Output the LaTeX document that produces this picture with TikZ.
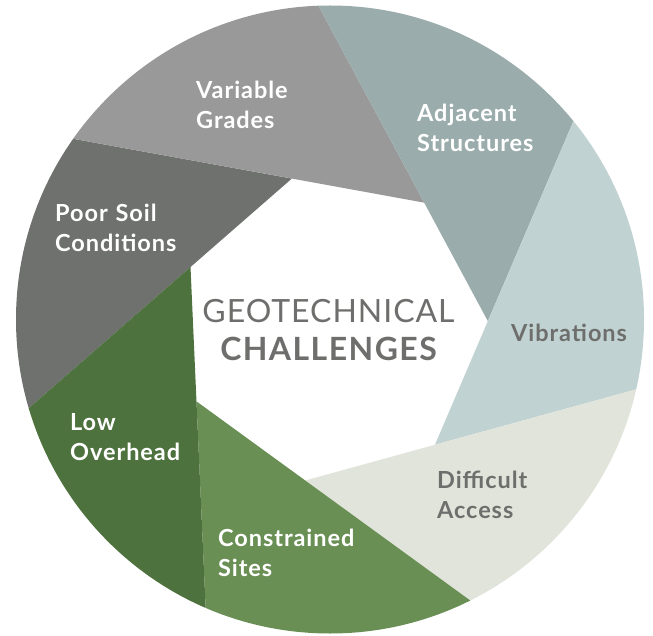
\documentclass[tikz,border=0pt]{standalone}
\usepackage{fontspec}
\setmainfont{Lato}
\usetikzlibrary{calc}
\definecolor{cPoor}{HTML}{6F716E}
\definecolor{cVar}{HTML}{999999}
\definecolor{cAdj}{HTML}{9AACAB}
\definecolor{cVib}{HTML}{C1D2D2}
\definecolor{cDiff}{HTML}{E1E4DA}
\definecolor{cCons}{HTML}{6A8F55}
\definecolor{cLow}{HTML}{4E723D}
\definecolor{txtgray}{HTML}{6E6F6D}
\tikzset{
  lbl/.style={font=\bfseries\fontsize{23.5}{30}\selectfont\addfontfeature{LetterSpace=4}, text=white, anchor=base west,
    inner sep=0pt, text width=170pt, align=left},
  lbldark/.style={lbl, text=txtgray}
}
\begin{document}
\begin{tikzpicture}[x=1pt,y=-1pt]
\fill[white] (0,0) rectangle (653,636);
\useasboundingbox (0,0) rectangle (653,636);
% heptagon vertices (clockwise on screen)
\foreach \k in {1,...,7}{
  \pgfmathsetmacro{\ang}{105.4-51.428571*(\k-1)}
  \coordinate (V\k) at ({333+155*cos(\ang)},{328-155*sin(\ang)});
}
\coordinate (C) at (330,319.5);
\begin{scope}
\clip (C) circle[radius=314pt];
\fill[cPoor] (V1) -- ($(V1)!6!(V7)$) -- ($(V2)!6!(V1)$) -- cycle;
\fill[cVar]  (V2) -- ($(V2)!6!(V1)$) -- ($(V3)!6!(V2)$) -- cycle;
\fill[cAdj]  (V3) -- ($(V3)!6!(V2)$) -- ($(V4)!6!(V3)$) -- cycle;
\fill[cVib]  (V4) -- ($(V4)!6!(V3)$) -- ($(V5)!6!(V4)$) -- cycle;
\fill[cDiff] (V5) -- ($(V5)!6!(V4)$) -- ($(V6)!6!(V5)$) -- cycle;
\fill[cCons] (V6) -- ($(V6)!6!(V5)$) -- ($(V7)!6!(V6)$) -- cycle;
\fill[cLow]  (V7) -- ($(V7)!6!(V6)$) -- ($(V1)!6!(V7)$) -- cycle;
\end{scope}
% labels
\node[lbl] (vargrades) at (196,99) {Variable\\Grades};
\node[lbl] (adjacent) at (417,122) {Adjacent\\Structures};
\node[lbl] (poorsoil) at (55,222) {Poor Soil\\Conditions};
\node[lbldark] (vibrations) at (511,341) {Vibrations};
\node[lbl] (lowover) at (70,430) {Low\\Overhead};
\node[lbldark] (difficult) at (437,488) {Difficult\\Access};
\node[lbl] (constrained) at (218,546) {Constrained\\Sites};
\node[anchor=base, inner sep=0pt, text width=300pt, align=center, text=txtgray,
  font=\fontsize{32}{37}\selectfont] (center) at (328.5,323)
  {{\addfontfeature{LetterSpace=3}GEOTECHNICAL}\\{\bfseries\addfontfeature{LetterSpace=4.5}CHALLENGES}};
\end{tikzpicture}
\end{document}
